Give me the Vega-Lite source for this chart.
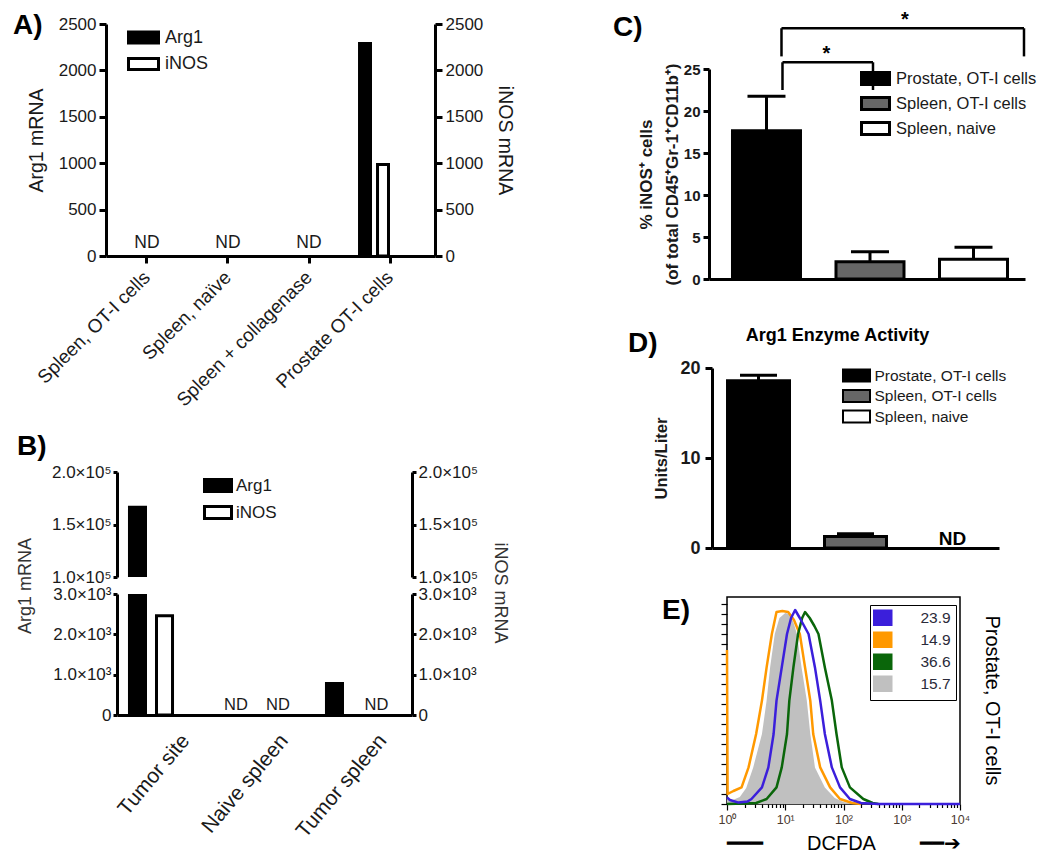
{
"$schema": "https://vega.github.io/schema/vega-lite/v6.json",
"padding": {"left": 13, "top": 10, "right": 0, "bottom": 0},
"datasets": {
"A_mrna": [
{"sample": "Spleen, OT-I cells", "gene": "Arg1", "mRNA": null},
{"sample": "Spleen, OT-I cells", "gene": "iNOS", "mRNA": null},
{"sample": "Spleen, naïve", "gene": "Arg1", "mRNA": null},
{"sample": "Spleen, naïve", "gene": "iNOS", "mRNA": null},
{"sample": "Spleen + collagenase", "gene": "Arg1", "mRNA": null},
{"sample": "Spleen + collagenase", "gene": "iNOS", "mRNA": null},
{"sample": "Prostate OT-I cells", "gene": "Arg1", "mRNA": 2290},
{"sample": "Prostate OT-I cells", "gene": "iNOS", "mRNA": 985}
],
"B_mrna": [
{"tissue": "Tumor site", "gene": "Arg1", "mRNA": 166500},
{"tissue": "Tumor site", "gene": "iNOS", "mRNA": 2460},
{"tissue": "Naive spleen", "gene": "Arg1", "mRNA": null},
{"tissue": "Naive spleen", "gene": "iNOS", "mRNA": null},
{"tissue": "Tumor spleen", "gene": "Arg1", "mRNA": 780},
{"tissue": "Tumor spleen", "gene": "iNOS", "mRNA": null}
],
"C_inos": [
{"group": "Prostate, OT-I cells", "mean": 17.65, "upper": 21.75},
{"group": "Spleen, OT-I cells", "mean": 2.05, "upper": 3.25},
{"group": "Spleen, naive", "mean": 2.36, "upper": 3.77}
],
"C_brackets": [
{"comparison": 1, "from": "Prostate, OT-I cells", "to": "Spleen, OT-I cells", "level": 25.8, "leg_end": 22.5, "sig": "*"},
{"comparison": 2, "from": "Prostate, OT-I cells", "to": "Spleen, naive", "level": 29.85, "leg_end": 26.5, "sig": "*"}
],
"D_arg1": [
{"group": "Prostate, OT-I cells", "activity": 18.58, "upper": 19.19},
{"group": "Spleen, OT-I cells", "activity": 1.28, "upper": 1.59},
{"group": "Spleen, naive", "activity": null, "upper": null}
],
"E_hist": [
{"MFI": "15.7", "log10_DCFDA": 0, "count": 2.5},
{"MFI": "15.7", "log10_DCFDA": 0.1, "count": 2},
{"MFI": "15.7", "log10_DCFDA": 0.22, "count": 3.5},
{"MFI": "15.7", "log10_DCFDA": 0.33, "count": 8},
{"MFI": "15.7", "log10_DCFDA": 0.45, "count": 18.3},
{"MFI": "15.7", "log10_DCFDA": 0.6, "count": 35},
{"MFI": "15.7", "log10_DCFDA": 0.68, "count": 51.7},
{"MFI": "15.7", "log10_DCFDA": 0.74, "count": 68.3},
{"MFI": "15.7", "log10_DCFDA": 0.82, "count": 85},
{"MFI": "15.7", "log10_DCFDA": 0.9, "count": 93},
{"MFI": "15.7", "log10_DCFDA": 1.0, "count": 95.5},
{"MFI": "15.7", "log10_DCFDA": 1.08, "count": 95},
{"MFI": "15.7", "log10_DCFDA": 1.15, "count": 90},
{"MFI": "15.7", "log10_DCFDA": 1.2, "count": 85},
{"MFI": "15.7", "log10_DCFDA": 1.28, "count": 68.3},
{"MFI": "15.7", "log10_DCFDA": 1.37, "count": 51.7},
{"MFI": "15.7", "log10_DCFDA": 1.43, "count": 35},
{"MFI": "15.7", "log10_DCFDA": 1.51, "count": 18.3},
{"MFI": "15.7", "log10_DCFDA": 1.68, "count": 8.3},
{"MFI": "15.7", "log10_DCFDA": 1.85, "count": 3},
{"MFI": "15.7", "log10_DCFDA": 2.0, "count": 1},
{"MFI": "15.7", "log10_DCFDA": 2.2, "count": 0},
{"MFI": "14.9", "log10_DCFDA": 0, "count": 77},
{"MFI": "14.9", "log10_DCFDA": 0.01, "count": 5},
{"MFI": "14.9", "log10_DCFDA": 0.11, "count": 6.5},
{"MFI": "14.9", "log10_DCFDA": 0.25, "count": 8.3},
{"MFI": "14.9", "log10_DCFDA": 0.37, "count": 18.3},
{"MFI": "14.9", "log10_DCFDA": 0.5, "count": 35},
{"MFI": "14.9", "log10_DCFDA": 0.6, "count": 51.7},
{"MFI": "14.9", "log10_DCFDA": 0.68, "count": 68.3},
{"MFI": "14.9", "log10_DCFDA": 0.77, "count": 85},
{"MFI": "14.9", "log10_DCFDA": 0.85, "count": 96},
{"MFI": "14.9", "log10_DCFDA": 0.95, "count": 96.5},
{"MFI": "14.9", "log10_DCFDA": 1.05, "count": 96},
{"MFI": "14.9", "log10_DCFDA": 1.15, "count": 92},
{"MFI": "14.9", "log10_DCFDA": 1.25, "count": 85},
{"MFI": "14.9", "log10_DCFDA": 1.34, "count": 68.3},
{"MFI": "14.9", "log10_DCFDA": 1.43, "count": 51.7},
{"MFI": "14.9", "log10_DCFDA": 1.48, "count": 35},
{"MFI": "14.9", "log10_DCFDA": 1.6, "count": 18.3},
{"MFI": "14.9", "log10_DCFDA": 1.77, "count": 8.3},
{"MFI": "14.9", "log10_DCFDA": 1.94, "count": 2.5},
{"MFI": "14.9", "log10_DCFDA": 2.15, "count": 0.5},
{"MFI": "14.9", "log10_DCFDA": 2.3, "count": 0},
{"MFI": "36.6", "log10_DCFDA": 0, "count": 0},
{"MFI": "36.6", "log10_DCFDA": 0.3, "count": 0.2},
{"MFI": "36.6", "log10_DCFDA": 0.5, "count": 0.5},
{"MFI": "36.6", "log10_DCFDA": 0.68, "count": 2.5},
{"MFI": "36.6", "log10_DCFDA": 0.85, "count": 8.3},
{"MFI": "36.6", "log10_DCFDA": 0.94, "count": 18.3},
{"MFI": "36.6", "log10_DCFDA": 1.03, "count": 35},
{"MFI": "36.6", "log10_DCFDA": 1.07, "count": 51.7},
{"MFI": "36.6", "log10_DCFDA": 1.14, "count": 68.3},
{"MFI": "36.6", "log10_DCFDA": 1.22, "count": 85},
{"MFI": "36.6", "log10_DCFDA": 1.29, "count": 93},
{"MFI": "36.6", "log10_DCFDA": 1.34, "count": 96},
{"MFI": "36.6", "log10_DCFDA": 1.42, "count": 93},
{"MFI": "36.6", "log10_DCFDA": 1.5, "count": 89},
{"MFI": "36.6", "log10_DCFDA": 1.57, "count": 85},
{"MFI": "36.6", "log10_DCFDA": 1.68, "count": 68.3},
{"MFI": "36.6", "log10_DCFDA": 1.8, "count": 51.7},
{"MFI": "36.6", "log10_DCFDA": 1.88, "count": 35},
{"MFI": "36.6", "log10_DCFDA": 1.97, "count": 18.3},
{"MFI": "36.6", "log10_DCFDA": 2.11, "count": 8.3},
{"MFI": "36.6", "log10_DCFDA": 2.34, "count": 2.5},
{"MFI": "36.6", "log10_DCFDA": 2.5, "count": 0.5},
{"MFI": "36.6", "log10_DCFDA": 2.6, "count": 0},
{"MFI": "23.9", "log10_DCFDA": 0, "count": 3.3},
{"MFI": "23.9", "log10_DCFDA": 0.05, "count": 2},
{"MFI": "23.9", "log10_DCFDA": 0.2, "count": 0.7},
{"MFI": "23.9", "log10_DCFDA": 0.35, "count": 1.2},
{"MFI": "23.9", "log10_DCFDA": 0.42, "count": 2.5},
{"MFI": "23.9", "log10_DCFDA": 0.6, "count": 8.3},
{"MFI": "23.9", "log10_DCFDA": 0.71, "count": 18.3},
{"MFI": "23.9", "log10_DCFDA": 0.8, "count": 35},
{"MFI": "23.9", "log10_DCFDA": 0.85, "count": 51.7},
{"MFI": "23.9", "log10_DCFDA": 0.94, "count": 68.3},
{"MFI": "23.9", "log10_DCFDA": 1.03, "count": 85},
{"MFI": "23.9", "log10_DCFDA": 1.1, "count": 93},
{"MFI": "23.9", "log10_DCFDA": 1.17, "count": 97},
{"MFI": "23.9", "log10_DCFDA": 1.25, "count": 93},
{"MFI": "23.9", "log10_DCFDA": 1.4, "count": 85},
{"MFI": "23.9", "log10_DCFDA": 1.51, "count": 68.3},
{"MFI": "23.9", "log10_DCFDA": 1.6, "count": 51.7},
{"MFI": "23.9", "log10_DCFDA": 1.68, "count": 35},
{"MFI": "23.9", "log10_DCFDA": 1.8, "count": 18.3},
{"MFI": "23.9", "log10_DCFDA": 1.94, "count": 8.3},
{"MFI": "23.9", "log10_DCFDA": 2.11, "count": 2.5},
{"MFI": "23.9", "log10_DCFDA": 2.3, "count": 0.5},
{"MFI": "23.9", "log10_DCFDA": 2.6, "count": 0},
{"MFI": "23.9", "log10_DCFDA": 4, "count": 0}
]
},
"hconcat": [
{
"vconcat": [
{
"title": {"text": "A)", "dx": -93, "dy": 29.4},
"width": 329, "height": 232,
"data": {"name": "A_mrna"},
"encoding": {
"x": {"field": "sample", "type": "nominal", "sort": null,
"scale": {"domain": ["Spleen, OT-I cells", "Spleen, naïve", "Spleen + collagenase", "Prostate OT-I cells"], "paddingInner": 0.247, "paddingOuter": 0.154, "align": 0.42},
"axis": {"title": null, "labelAngle": -45, "labelAlign": "right", "labelBaseline": "middle", "labelFontSize": 19, "labelPadding": 11, "tickSize": 7, "tickWidth": 3, "domainWidth": 3, "labelLimit": 0}}
},
"layer": [
{
"transform": [{"filter": "datum.gene == 'Arg1' && datum.mRNA != null"}],
"mark": {"type": "bar", "stroke": "black", "strokeWidth": 3},
"encoding": {
"xOffset": {"field": "gene", "type": "nominal", "scale": {"domain": ["Arg1", "iNOS"], "paddingInner": 0.39, "paddingOuter": 0.89, "align": 0}},
"y": {"field": "mRNA", "type": "quantitative", "scale": {"domain": [0, 2500], "nice": false},
"axis": {"orient": "left", "title": "Arg1 mRNA", "format": "d", "values": [0, 500, 1000, 1500, 2000, 2500], "labelFontSize": 17, "labelPadding": 3, "tickSize": 7, "tickWidth": 3, "domainWidth": 3, "titleFontSize": 19.5, "titlePadding": 12}},
"color": {"field": "gene", "type": "nominal", "scale": {"domain": ["Arg1", "iNOS"], "range": ["black", "white"]},
"legend": {"orient": "none", "direction": "vertical", "legendX": 26, "legendY": 2, "title": null, "symbolType": "M-1.5,-0.55H1.5V0.55H-1.5Z", "symbolSize": 400, "symbolStrokeColor": "black", "symbolStrokeWidth": 3, "labelFontSize": 18, "labelOffset": 10, "rowPadding": 3.5, "padding": 0}}
}
},
{
"transform": [{"filter": "datum.gene == 'iNOS' && datum.mRNA != null"}],
"mark": {"type": "bar", "stroke": "black", "strokeWidth": 3},
"encoding": {
"xOffset": {"field": "gene", "type": "nominal", "scale": {"domain": ["Arg1", "iNOS"], "paddingInner": 0.39, "paddingOuter": 0.89, "align": 0}},
"y": {"field": "mRNA", "type": "quantitative", "scale": {"domain": [0, 2500], "nice": false},
"axis": {"orient": "right", "title": "iNOS mRNA", "format": "d", "values": [0, 500, 1000, 1500, 2000, 2500], "labelFontSize": 17, "labelPadding": 3, "tickSize": 7, "tickWidth": 3, "domainWidth": 3, "titleFontSize": 19.5, "titlePadding": 12}},
"color": {"field": "gene", "type": "nominal", "scale": {"domain": ["Arg1", "iNOS"], "range": ["black", "white"]},
"legend": {"orient": "none", "direction": "vertical", "legendX": 26, "legendY": 2, "title": null, "symbolType": "M-1.5,-0.55H1.5V0.55H-1.5Z", "symbolSize": 400, "symbolStrokeColor": "black", "symbolStrokeWidth": 3, "labelFontSize": 18, "labelOffset": 10, "rowPadding": 3.5, "padding": 0}}
}
},
{
"transform": [{"filter": "datum.gene == 'Arg1' && datum.mRNA == null"}],
"mark": {"type": "text", "fontSize": 17.5, "baseline": "alphabetic", "dy": -8, "color": "#1a1a1a"},
"encoding": {
"text": {"value": "ND"},
"y": {"datum": 0, "type": "quantitative", "scale": {"domain": [0, 2500], "nice": false}, "axis": null}
}
}
],
"resolve": {"scale": {"y": "independent"}}
},
{
"title": {"text": "B)", "dx": -89, "dy": 2.4},
"hconcat": [
{"width": 11, "height": 1, "data": {"values": []}, "mark": "point"},
{
"vconcat": [
{
"width": 295, "height": 105,
"data": {"name": "B_mrna"},
"encoding": {
"x": {"field": "tissue", "type": "nominal", "sort": null,
"scale": {"domain": ["Tumor site", "Naive spleen", "Tumor spleen"], "paddingInner": 0.563, "paddingOuter": 0.279, "align": 0.227},
"axis": null}
},
"layer": [
{
"transform": [{"filter": "datum.gene == 'Arg1' && datum.mRNA != null"}],
"mark": {"type": "bar", "stroke": "black", "strokeWidth": 3, "clip": true},
"encoding": {
"xOffset": {"field": "gene", "type": "nominal", "scale": {"domain": ["Arg1", "iNOS"], "paddingInner": 0.407, "paddingOuter": 0}},
"y": {"field": "mRNA", "type": "quantitative", "scale": {"domain": [100000, 200000], "nice": false, "zero": false},
"axis": {"orient": "left", "title": null, "values": [100000, 150000, 200000], "labelExpr": "format(datum.value/100000, '.1f') + '×10⁵'", "labelFontSize": 17, "labelPadding": 2, "tickSize": 4, "tickWidth": 3, "domainWidth": 3}},
"color": {"field": "gene", "type": "nominal", "scale": {"domain": ["Arg1", "iNOS"], "range": ["black", "white"]},
"legend": {"orient": "none", "direction": "vertical", "legendX": 86, "legendY": -1.5, "title": null, "symbolType": "M-1,-0.44H1V0.44H-1Z", "symbolSize": 729, "symbolStrokeColor": "black", "symbolStrokeWidth": 3, "labelFontSize": 17, "labelOffset": 3, "rowPadding": 0, "padding": 0}}
}
},
{
"transform": [{"filter": "datum.gene == 'iNOS' && datum.mRNA != null"}],
"mark": {"type": "bar", "stroke": "black", "strokeWidth": 3, "clip": true},
"encoding": {
"xOffset": {"field": "gene", "type": "nominal", "scale": {"domain": ["Arg1", "iNOS"], "paddingInner": 0.407, "paddingOuter": 0}},
"y": {"field": "mRNA", "type": "quantitative", "scale": {"domain": [100000, 200000], "nice": false, "zero": false},
"axis": {"orient": "right", "title": null, "values": [100000, 150000, 200000], "labelExpr": "format(datum.value/100000, '.1f') + '×10⁵'", "labelFontSize": 17, "labelPadding": 2, "tickSize": 4, "tickWidth": 3, "domainWidth": 3}},
"color": {"field": "gene", "type": "nominal", "scale": {"domain": ["Arg1", "iNOS"], "range": ["black", "white"]},
"legend": {"orient": "none", "direction": "vertical", "legendX": 86, "legendY": -1.5, "title": null, "symbolType": "M-1,-0.44H1V0.44H-1Z", "symbolSize": 729, "symbolStrokeColor": "black", "symbolStrokeWidth": 3, "labelFontSize": 17, "labelOffset": 3, "rowPadding": 0, "padding": 0}}
}
}
],
"resolve": {"scale": {"y": "independent"}}
},
{
"width": 295, "height": 121,
"data": {"name": "B_mrna"},
"encoding": {
"x": {"field": "tissue", "type": "nominal", "sort": null,
"scale": {"domain": ["Tumor site", "Naive spleen", "Tumor spleen"], "paddingInner": 0.563, "paddingOuter": 0.279, "align": 0.227},
"axis": {"title": null, "labelAngle": -50, "labelAlign": "right", "labelBaseline": "middle", "labelFontSize": 21, "labelOffset": 35, "labelPadding": 22, "ticks": false, "domainWidth": 3, "labelLimit": 0}}
},
"layer": [
{
"transform": [{"filter": "datum.gene == 'Arg1' && datum.mRNA != null"}],
"mark": {"type": "bar", "stroke": "black", "strokeWidth": 3, "clip": true},
"encoding": {
"xOffset": {"field": "gene", "type": "nominal", "scale": {"domain": ["Arg1", "iNOS"], "paddingInner": 0.407, "paddingOuter": 0}},
"y": {"field": "mRNA", "type": "quantitative", "scale": {"domain": [0, 3000], "nice": false},
"axis": {"orient": "left", "title": "Arg1 mRNA", "titleY": -8.5, "titleFontSize": 18, "titleColor": "#333333", "titlePadding": 18, "values": [0, 1000, 2000, 3000], "labelExpr": "datum.value == 0 ? '0' : format(datum.value/1000, '.1f') + '×10³'", "labelFontSize": 17, "labelPadding": 2, "tickSize": 4, "tickWidth": 3, "domainWidth": 3}},
"color": {"field": "gene", "type": "nominal", "scale": {"domain": ["Arg1", "iNOS"], "range": ["black", "white"]}, "legend": null}
}
},
{
"transform": [{"filter": "datum.gene == 'iNOS' && datum.mRNA != null"}],
"mark": {"type": "bar", "stroke": "black", "strokeWidth": 3, "clip": true},
"encoding": {
"xOffset": {"field": "gene", "type": "nominal", "scale": {"domain": ["Arg1", "iNOS"], "paddingInner": 0.407, "paddingOuter": 0}},
"y": {"field": "mRNA", "type": "quantitative", "scale": {"domain": [0, 3000], "nice": false},
"axis": {"orient": "right", "title": "iNOS mRNA", "titleY": -1.5, "titleFontSize": 18, "titleColor": "#333333", "titlePadding": 14, "values": [0, 1000, 2000, 3000], "labelExpr": "datum.value == 0 ? '0' : format(datum.value/1000, '.1f') + '×10³'", "labelFontSize": 17, "labelPadding": 2, "tickSize": 4, "tickWidth": 3, "domainWidth": 3}},
"color": {"field": "gene", "type": "nominal", "scale": {"domain": ["Arg1", "iNOS"], "range": ["black", "white"]}, "legend": null}
}
},
{
"transform": [{"filter": "datum.gene == 'Arg1' && datum.mRNA == null"}],
"mark": {"type": "text", "fontSize": 16.5, "baseline": "alphabetic", "dy": -5, "color": "#1a1a1a"},
"encoding": {
"xOffset": {"field": "gene", "type": "nominal", "scale": {"domain": ["Arg1", "iNOS"], "paddingInner": 0.407, "paddingOuter": 0}},
"text": {"value": "ND"},
"y": {"datum": 0, "type": "quantitative", "scale": {"domain": [0, 3000], "nice": false}, "axis": null}
}
},
{
"transform": [{"filter": "datum.gene == 'iNOS' && datum.mRNA == null"}],
"mark": {"type": "text", "fontSize": 16.5, "baseline": "alphabetic", "dy": -5, "dx": 15, "color": "#1a1a1a"},
"encoding": {
"xOffset": {"field": "gene", "type": "nominal", "scale": {"domain": ["Arg1", "iNOS"], "paddingInner": 0.407, "paddingOuter": 0}},
"text": {"value": "ND"},
"y": {"datum": 0, "type": "quantitative", "scale": {"domain": [0, 3000], "nice": false}, "axis": null}
}
}
],
"resolve": {"scale": {"y": "independent"}}
}
],
"spacing": 17, "bounds": "flush",
"resolve": {"scale": {"color": "independent", "xOffset": "independent"}, "legend": {"color": "independent"}}
}
],
"spacing": 0, "bounds": "flush",
"resolve": {"scale": {"color": "independent", "xOffset": "independent"}, "legend": {"color": "independent"}}
}
],
"spacing": 216, "bounds": "flush",
"resolve": {"scale": {"color": "independent", "xOffset": "independent"}, "legend": {"color": "independent"}}
},
{
"vconcat": [
{"width": 1, "height": 45, "data": {"values": []}, "mark": "point"},
{
"vconcat": [
{
"title": {"text": "C)", "dx": -96, "dy": 35.4},
"width": 316, "height": 210,
"layer": [
{
"data": {"name": "C_inos"},
"mark": {"type": "bar", "stroke": "black", "strokeWidth": 3},
"encoding": {
"x": {"field": "group", "type": "nominal", "sort": null,
"scale": {"domain": ["Prostate, OT-I cells", "Spleen, OT-I cells", "Spleen, naive"], "paddingInner": 0.343, "paddingOuter": 0.198, "align": 0.573},
"axis": {"title": null, "labels": false, "ticks": false, "domainWidth": 3}},
"y": {"field": "mean", "type": "quantitative", "scale": {"domain": [0, 25], "nice": false},
"axis": {"title": ["% iNOS⁺ cells", "(of total CD45⁺Gr-1⁺CD11b⁺)"], "values": [0, 5, 10, 15, 20, 25], "labelFontSize": 15, "labelFontWeight": "bold", "labelPadding": 3, "tickSize": 6, "tickWidth": 3, "domainWidth": 3, "titleFontSize": 17, "titleFontWeight": "bold", "titleLineHeight": 26, "titlePadding": 2}},
"color": {"field": "group", "type": "nominal", "scale": {"domain": ["Prostate, OT-I cells", "Spleen, OT-I cells", "Spleen, naive"], "range": ["black", "#666666", "white"]},
"legend": {"orient": "none", "direction": "vertical", "legendX": 158, "legendY": 1, "title": null, "symbolType": "M-2,-0.857H2V0.857H-2Z", "symbolSize": 196, "symbolStrokeColor": "black", "symbolStrokeWidth": 3, "labelFontSize": 16.5, "labelOffset": 12, "rowPadding": 0, "padding": 0}}
}
},
{
"data": {"name": "C_inos"},
"mark": {"type": "rule", "strokeWidth": 3, "color": "black"},
"encoding": {
"x": {"field": "group", "type": "nominal"},
"y": {"field": "mean", "type": "quantitative"},
"y2": {"field": "upper"}
}
},
{
"data": {"name": "C_inos"},
"mark": {"type": "tick", "thickness": 3, "size": 38, "color": "black", "opacity": 1},
"encoding": {
"x": {"field": "group", "type": "nominal"},
"y": {"field": "upper", "type": "quantitative"}
}
},
{
"data": {"name": "C_brackets"},
"transform": [{"filter": "datum.comparison == 1"}],
"mark": {"type": "rule", "strokeWidth": 2.5, "color": "black", "xOffset": 16, "x2Offset": 3},
"encoding": {
"x": {"field": "from", "type": "nominal"},
"x2": {"field": "to"},
"y": {"field": "level", "type": "quantitative"}
}
},
{
"data": {"name": "C_brackets"},
"transform": [{"filter": "datum.comparison == 1"}],
"mark": {"type": "rule", "strokeWidth": 2.5, "color": "black", "xOffset": 16},
"encoding": {
"x": {"field": "from", "type": "nominal"},
"y": {"field": "level", "type": "quantitative"},
"y2": {"field": "leg_end"}
}
},
{
"data": {"name": "C_brackets"},
"transform": [{"filter": "datum.comparison == 1"}],
"mark": {"type": "rule", "strokeWidth": 2.5, "color": "black", "xOffset": 3},
"encoding": {
"x": {"field": "to", "type": "nominal"},
"y": {"field": "level", "type": "quantitative"},
"y2": {"field": "leg_end"}
}
},
{
"data": {"name": "C_brackets"},
"transform": [{"filter": "datum.comparison == 2"}],
"mark": {"type": "rule", "strokeWidth": 2.5, "color": "black", "xOffset": 15, "x2Offset": 50.5},
"encoding": {
"x": {"field": "from", "type": "nominal"},
"x2": {"field": "to"},
"y": {"field": "level", "type": "quantitative"}
}
},
{
"data": {"name": "C_brackets"},
"transform": [{"filter": "datum.comparison == 2"}],
"mark": {"type": "rule", "strokeWidth": 2.5, "color": "black", "xOffset": 15},
"encoding": {
"x": {"field": "from", "type": "nominal"},
"y": {"field": "level", "type": "quantitative"},
"y2": {"field": "leg_end"}
}
},
{
"data": {"name": "C_brackets"},
"transform": [{"filter": "datum.comparison == 2"}],
"mark": {"type": "rule", "strokeWidth": 2.5, "color": "black", "xOffset": 50.5},
"encoding": {
"x": {"field": "to", "type": "nominal"},
"y": {"field": "level", "type": "quantitative"},
"y2": {"field": "leg_end"}
}
},
{
"data": {"name": "C_brackets"},
"transform": [{"filter": "datum.comparison == 1"}],
"mark": {"type": "text", "fontSize": 20, "fontWeight": "bold", "baseline": "alphabetic", "dx": 60, "dy": -2, "color": "black"},
"encoding": {
"x": {"field": "from", "type": "nominal"},
"y": {"field": "level", "type": "quantitative"},
"text": {"field": "sig"}
}
},
{
"data": {"name": "C_brackets"},
"transform": [{"filter": "datum.comparison == 2"}],
"mark": {"type": "text", "fontSize": 20, "fontWeight": "bold", "baseline": "alphabetic", "dx": -68.5, "dy": -2, "color": "black"},
"encoding": {
"x": {"field": "to", "type": "nominal"},
"y": {"field": "level", "type": "quantitative"},
"text": {"field": "sig"}
}
}
]
},
{
"vconcat": [
{
"title": {"text": "D)", "dx": -81, "dy": 35},
"hconcat": [
{"width": 3, "height": 1, "data": {"values": []}, "mark": "point"},
{
"title": {"text": "Arg1 Enzyme Activity", "anchor": "middle", "fontSize": 18, "dx": -18, "dy": -10},
"width": 287, "height": 180,
"data": {"name": "D_arg1"},
"encoding": {
"x": {"field": "group", "type": "nominal", "sort": null,
"scale": {"domain": ["Prostate, OT-I cells", "Spleen, OT-I cells", "Spleen, naive"], "paddingInner": 0.361, "paddingOuter": 0.16, "align": 0.5},
"axis": {"title": null, "labels": false, "ticks": false, "domainWidth": 3}}
},
"layer": [
{
"transform": [{"filter": "datum.activity != null"}],
"mark": {"type": "bar", "stroke": "black", "strokeWidth": 3},
"encoding": {
"y": {"field": "activity", "type": "quantitative", "scale": {"domain": [0, 20], "nice": false},
"axis": {"title": "Units/Liter", "values": [0, 10, 20], "labelFontSize": 18, "labelFontWeight": "bold", "labelPadding": 5, "tickSize": 7, "tickWidth": 3, "domainWidth": 3, "titleFontSize": 16.6, "titleFontWeight": "bold", "titlePadding": 10}},
"color": {"field": "group", "type": "nominal", "scale": {"domain": ["Prostate, OT-I cells", "Spleen, OT-I cells", "Spleen, naive"], "range": ["black", "#666666", "white"]},
"legend": {"orient": "none", "direction": "vertical", "legendX": 136.5, "legendY": -0.5, "title": null, "symbolType": "M-1.929,-0.857H1.929V0.857H-1.929Z", "symbolSize": 196, "symbolStrokeColor": "black", "symbolStrokeWidth": 2, "labelFontSize": 15.5, "labelOffset": 10, "rowPadding": 0.5, "padding": 0}}
}
},
{
"transform": [{"filter": "datum.activity != null"}],
"mark": {"type": "rule", "strokeWidth": 3, "color": "black"},
"encoding": {
"y": {"field": "activity", "type": "quantitative"},
"y2": {"field": "upper"}
}
},
{
"transform": [{"filter": "datum.activity != null"}],
"mark": {"type": "tick", "thickness": 3, "size": 37, "color": "black", "opacity": 1},
"encoding": {
"y": {"field": "upper", "type": "quantitative"}
}
},
{
"transform": [{"filter": "datum.activity == null"}],
"mark": {"type": "text", "fontSize": 19, "fontWeight": "bold", "baseline": "alphabetic", "dy": -3, "color": "black"},
"encoding": {
"text": {"value": "ND"},
"y": {"datum": 0, "type": "quantitative"}
}
}
]
}
],
"spacing": 0, "bounds": "flush",
"resolve": {"scale": {"color": "independent", "xOffset": "independent"}, "legend": {"color": "independent"}}
},
{
"title": {"text": "E)", "dx": -47, "dy": 33},
"hconcat": [
{"width": 18, "height": 1, "data": {"values": []}, "mark": "point"},
{
"title": {"text": "Prostate, OT-I cells", "orient": "right", "anchor": "middle", "fontSize": 20, "fontWeight": "normal", "offset": 12},
"width": 233, "height": 207,
"view": {"stroke": "black", "strokeWidth": 1.5},
"data": {"name": "E_hist"},
"encoding": {
"x": {"field": "log10_DCFDA", "type": "quantitative", "scale": {"domain": [0, 4], "nice": false, "zero": false},
"axis": {"title": "━━━\u00a0\u00a0\u00a0\u00a0\u00a0\u00a0\u00a0\u00a0DCFDA\u00a0\u00a0\u00a0\u00a0\u00a0\u00a0\u00a0\u00a0━━➔", "titleFontSize": 20, "titlePadding": 8, "titleColor": "black", "domain": false,
"values": [0, 0.301, 0.477, 0.602, 0.699, 0.778, 0.845, 0.903, 0.954, 1, 1.301, 1.477, 1.602, 1.699, 1.778, 1.845, 1.903, 1.954, 2, 2.301, 2.477, 2.602, 2.699, 2.778, 2.845, 2.903, 2.954, 3, 3.301, 3.477, 3.602, 3.699, 3.778, 3.845, 3.903, 3.954, 4],
"labelExpr": "datum.value % 1 == 0 ? '10' + ['⁰','¹','²','³','⁴'][datum.value] : ''",
"labelFontSize": 12.5, "labelColor": "#4a3a30", "labelPadding": 3, "labelFlush": false, "labelOverlap": false,
"tickSize": {"condition": {"test": "datum.value % 1 == 0", "value": 6}, "value": 3.5}, "tickWidth": 1.2}},
"y": {"field": "count", "type": "quantitative", "scale": {"domain": [0, 103.5], "nice": false},
"axis": {"title": null, "labels": false, "domain": false, "values": [0, 5, 10, 15, 20, 25, 30, 35, 40, 45, 50, 55, 60, 65, 70, 75, 80, 85, 90, 95, 100], "tickSize": 6, "tickWidth": 1.2}}
},
"layer": [
{
"transform": [{"filter": "datum.MFI == '15.7'"}],
"mark": {"type": "area", "opacity": 1},
"encoding": {
"color": {"field": "MFI", "type": "nominal", "scale": {"domain": ["23.9", "14.9", "36.6", "15.7"], "range": ["#3b1fdb", "#ff9900", "#0a660a", "#c0c0c0"]},
"legend": {"orient": "none", "direction": "vertical", "legendX": 143, "legendY": 8, "title": null, "symbolType": "M-2.25,-1.875H2.25V1.875H-2.25Z", "symbolSize": 64, "symbolStrokeColor": "black", "symbolStrokeWidth": 1.5, "labelFontSize": 15.5, "labelOffset": 30, "rowPadding": 0, "padding": 5, "strokeColor": "black", "labelColor": "#2a2a3a",
"encoding": {"symbols": {"update": {"fill": {"signal": "datum.value == '23.9' ? '#3b1fdb' : datum.value == '14.9' ? '#ff9900' : datum.value == '36.6' ? '#0a660a' : '#c0c0c0'"}, "stroke": {"value": "black"}, "strokeWidth": {"value": 1.5}, "fillOpacity": {"value": 1}, "opacity": {"value": 1}}}}}
}
}
},
{
"transform": [{"filter": "datum.MFI != '15.7'"}],
"mark": {"type": "line", "strokeWidth": 2.5, "strokeJoin": "round"},
"encoding": {
"color": {"field": "MFI", "type": "nominal", "scale": {"domain": ["23.9", "14.9", "36.6", "15.7"], "range": ["#3b1fdb", "#ff9900", "#0a660a", "#c0c0c0"]},
"legend": {"orient": "none", "direction": "vertical", "legendX": 143, "legendY": 8, "title": null, "symbolType": "M-2.25,-1.875H2.25V1.875H-2.25Z", "symbolSize": 64, "symbolStrokeColor": "black", "symbolStrokeWidth": 1.5, "labelFontSize": 15.5, "labelOffset": 30, "rowPadding": 0, "padding": 5, "strokeColor": "black", "labelColor": "#2a2a3a",
"encoding": {"symbols": {"update": {"fill": {"signal": "datum.value == '23.9' ? '#3b1fdb' : datum.value == '14.9' ? '#ff9900' : datum.value == '36.6' ? '#0a660a' : '#c0c0c0'"}, "stroke": {"value": "black"}, "strokeWidth": {"value": 1.5}, "fillOpacity": {"value": 1}, "opacity": {"value": 1}}}}}
}
}
}
]
}
],
"spacing": 0, "bounds": "flush",
"resolve": {"scale": {"color": "independent", "xOffset": "independent"}, "legend": {"color": "independent"}}
}
],
"spacing": 229, "bounds": "flush",
"resolve": {"scale": {"color": "independent", "xOffset": "independent"}, "legend": {"color": "independent"}}
}
],
"spacing": 89, "bounds": "flush",
"resolve": {"scale": {"color": "independent", "xOffset": "independent"}, "legend": {"color": "independent"}}
}
],
"spacing": 0, "bounds": "flush",
"resolve": {"scale": {"color": "independent", "xOffset": "independent"}, "legend": {"color": "independent"}}
}
],
"spacing": 603, "bounds": "flush",
"resolve": {"scale": {"color": "independent", "xOffset": "independent"}, "legend": {"color": "independent"}},
"config": {
"view": {"stroke": null},
"font": "Liberation Sans",
"axis": {"grid": false, "domainColor": "black", "tickColor": "black", "labelColor": "#1a1a1a", "titleColor": "#1a1a1a", "labelFont": "Liberation Sans", "titleFont": "Liberation Sans", "titleFontWeight": "normal"},
"legend": {"labelFont": "Liberation Sans", "labelColor": "#1a1a1a", "symbolOpacity": 1},
"title": {"font": "Liberation Sans", "fontSize": 28, "fontWeight": "bold", "anchor": "start", "frame": "group", "baseline": "alphabetic", "offset": 0, "color": "black"},
"text": {"font": "Liberation Sans"}
}
}
